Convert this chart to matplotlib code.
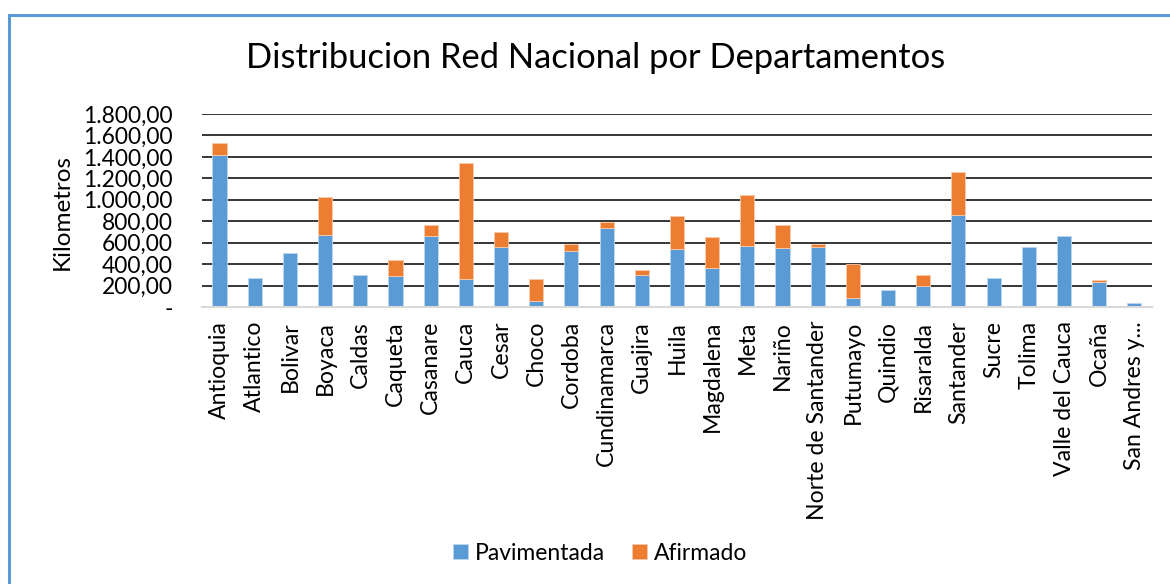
import matplotlib
matplotlib.use("Agg")
import matplotlib.pyplot as plt
from matplotlib.ticker import FuncFormatter
from matplotlib.lines import Line2D
import numpy as np

plt.rcParams['font.family'] = ['Lato', 'DejaVu Sans']

departamentos = ["Antioquia", "Atlantico", "Bolivar", "Boyaca", "Caldas", "Caqueta",
                 "Casanare", "Cauca", "Cesar", "Choco", "Cordoba", "Cundinamarca",
                 "Guajira", "Huila", "Magdalena", "Meta", "Nariño", "Norte de Santander",
                 "Putumayo", "Quindio", "Risaralda", "Santander", "Sucre", "Tolima",
                 "Valle del Cauca", "Ocaña", "San Andres y..."]
pavimentada = [1422, 267, 500, 671, 295, 289, 665, 261, 562, 56, 525, 736, 301, 537,
               366, 568, 553, 559, 84, 158, 199, 857, 267, 556, 665, 230, 34]
afirmado = [103, 0, 0, 357, 0, 146, 96, 1078, 140, 208, 62, 56, 44, 314,
            283, 479, 211, 25, 320, 0, 102, 398, 0, 0, 0, 18, 0]

azul = "#5B9BD5"
naranja = "#ED7D31"

fig = plt.figure(figsize=(11.7, 5.84), dpi=100)
ax = fig.add_axes([0.1726, 0.4743, 0.812, 0.3305])

x = np.arange(len(departamentos))
ax.bar(x, pavimentada, width=0.4, color=azul, edgecolor="#BDD7EE", linewidth=0.6,
       label="Pavimentada", zorder=3)
bordes = ["#F8CBAD" if v > 0 else "none" for v in afirmado]
ax.bar(x, afirmado, width=0.4, bottom=pavimentada, color=naranja, edgecolor=bordes,
       linewidth=0.6, label="Afirmado", zorder=3)

ax.set_xlim(-0.5, len(departamentos) - 0.5)
ax.set_ylim(0, 1800)
ax.set_yticks(np.arange(0, 1801, 200))


def formato(v, pos):
    if v == 0:
        return "-"
    s = "{:,.2f}".format(v)
    return s.replace(",", "X").replace(".", ",").replace("X", ".")


ax.yaxis.set_major_formatter(FuncFormatter(formato))
ax.set_xticks(x)
ax.set_xticklabels(departamentos, rotation=90, fontsize=16.6)
ax.tick_params(axis="y", labelsize=16.4, length=0, pad=21)
ax.tick_params(axis="x", length=0, pad=10)
ax.yaxis.grid(True, color="black", linewidth=1.1, zorder=0)
ax.set_axisbelow(True)
for s in ["top", "right", "left"]:
    ax.spines[s].set_visible(False)
ax.spines["bottom"].set_color("#D9D9D9")
ax.spines["bottom"].set_linewidth(1.5)
ax.spines["bottom"].set_zorder(4)

fig.text(62 / 1170, 1 - 212 / 584, "Kilometros", rotation=90, fontsize=17.5,
         ha="center", va="center")
fig.text(596 / 1170, 1 - 58 / 584, "Distribucion Red Nacional por Departamentos",
         fontsize=24.8, ha="center", va="center")

fig.legend(loc="center", bbox_to_anchor=(600 / 1170, 1 - 553 / 584), ncol=2,
           frameon=False, fontsize=16.5, handlelength=0.65, handleheight=0.65,
           columnspacing=1.2, handletextpad=0.3)

# marco del grafico
fig.add_artist(Line2D([9 / 1170, 9 / 1170], [0, 1 - 15 / 584], color=azul, linewidth=2.2))
fig.add_artist(Line2D([9 / 1170, 1], [1 - 15 / 584, 1 - 15 / 584], color=azul, linewidth=2.2))

fig.savefig("out.png", dpi=100)
